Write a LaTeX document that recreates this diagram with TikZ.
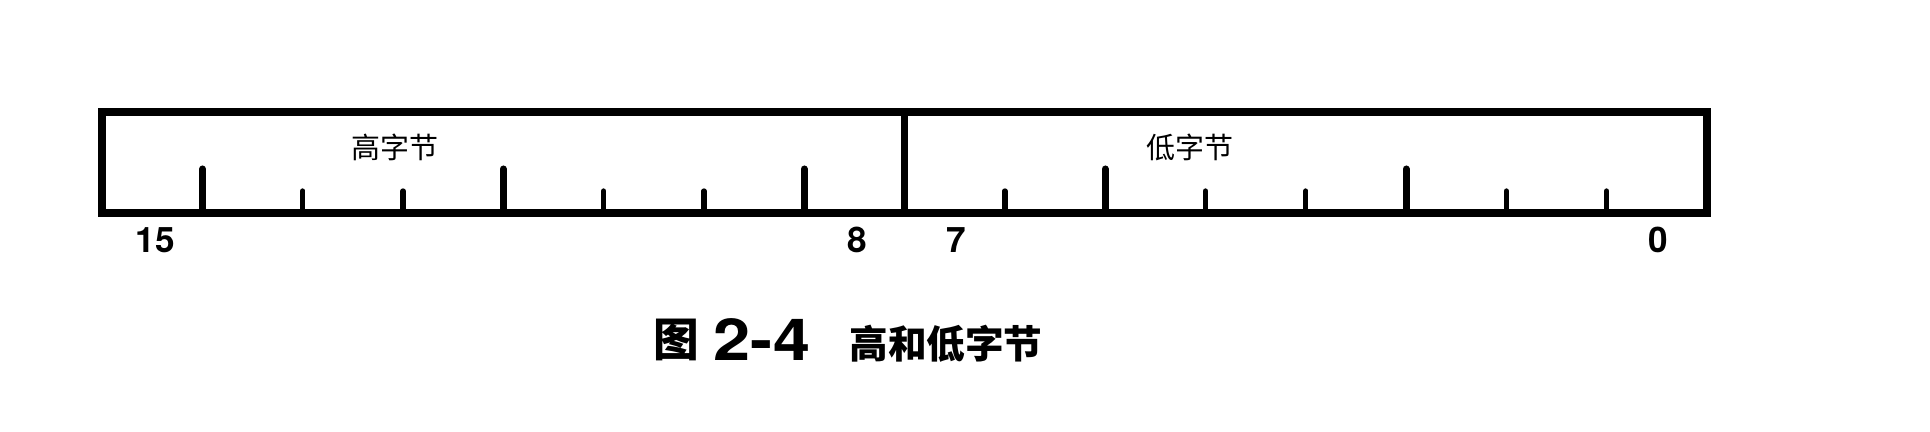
\documentclass[tikz,border=0pt]{standalone}
\usepackage{fontspec}
\setsansfont{TeX Gyre Heros}
\newfontfamily\cjk{Noto Sans CJK SC}
\usetikzlibrary{positioning,calc}

\begin{document}
\begin{tikzpicture}[
  x=0.02cm, y=-0.02cm,
  regbox/.style={rectangle, draw, line width=4.5pt, minimum width=32.1cm, minimum height=2.02cm, inner sep=0pt, outer sep=0pt},
  longtick/.style={line width=4pt, line cap=round},
  shorttick/.style={line width=3pt, line cap=round},
  bitnum/.style={font=\sffamily\bfseries\fontsize{20}{20}\selectfont, inner sep=0pt},
  bytelabel/.style={font=\cjk\fontsize{16.5}{17}\selectfont, inner sep=0pt},
  captag/.style={font=\cjk\bfseries\fontsize{26}{26}\selectfont, inner sep=0pt},
  capnum/.style={font=\sffamily\bfseries\fontsize{33}{33}\selectfont, inner sep=0pt},
  captitle/.style={font=\cjk\bfseries\fontsize{22}{22}\selectfont, inner sep=0pt}
]
\useasboundingbox (0,0) rectangle (1930,432);

\node[regbox] (reg) at (904.5,162.5) {};
\draw[line width=3.5pt] (reg.north) -- (reg.south);
\foreach \i in {1,...,15} {
  \ifnum\i=8\else
    \pgfmathtruncatemacro{\r}{mod(\i,3)}
    \ifnum\r=1
      \draw[longtick] ($(reg.south west)+(\i*100.3,0)$) -- ++(0,-44);
    \else
      \draw[shorttick] ($(reg.south west)+(\i*100.3,0)$) -- ++(0,-22);
    \fi
  \fi
}

\node[bytelabel] (high) at (395,147) {高字节};
\node[bytelabel] (low) at (1190,147) {低字节};

\node[bitnum] (b15) at (155,240) {15};
\node[bitnum] (b8) at (857,240) {8};
\node[bitnum] (b7) at (956,240) {7};
\node[bitnum] (b0) at (1658,240) {0};

\node[captag] (figtag) at (676,340) {图};
\node[capnum] (fignum) at (762,340) {\scalebox{1.15}[1]{2-4}};
\node[captitle] (figtitle) at (946,344) {高和低字节};
\end{tikzpicture}
\end{document}
